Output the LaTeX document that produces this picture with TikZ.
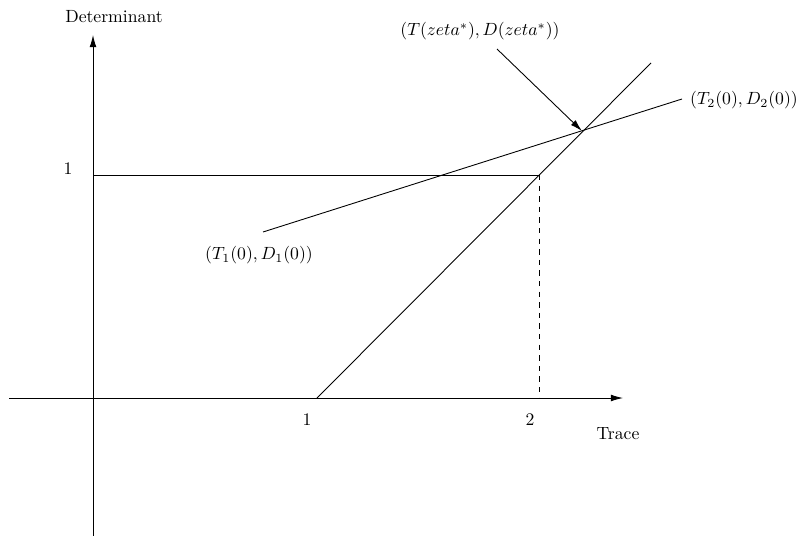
\documentclass[tikz,border=0pt]{standalone}
\usetikzlibrary{arrows.meta}
\begin{document}
\begin{tikzpicture}[x=0.566pt,y=-0.566pt,line width=0.5pt,
  axisarrow/.style={-{Latex[length=6.8pt,width=3.8pt]}},
  lbl/.style={inner sep=0pt}]
\useasboundingbox (0,0) rectangle (801,536);
% coordinates
\coordinate (ybot) at (93,536);
\coordinate (ytop) at (93,35);
\coordinate (xl) at (9,398);
\coordinate (xr) at (623,398);
\coordinate (d1) at (93,175);
\coordinate (p2) at (539,175);
\coordinate (q2) at (539,398);
\coordinate (a0) at (317,398);
\coordinate (a1) at (651,63);
\coordinate (b0) at (263,232);
\coordinate (b1) at (682,99);
\coordinate (star) at (582,131);
\coordinate (arrs) at (497,49);
% axes
\draw[axisarrow] (ybot) -- (ytop);
\draw[axisarrow] (xl) -- (xr);
% lines
\draw (d1) -- (p2);
\draw[dashed] (p2) -- (q2);
\draw (a0) -- (a1);
\draw (b0) -- (b1);
\draw[axisarrow] (arrs) -- (star);
% labels
\node[lbl] (det) at (114,17) {Determinant};
\node[lbl] (one) at (68,169) {1};
\node[lbl] (tone) at (307,420) {1};
\node[lbl] (ttwo) at (530,420) {2};
\node[lbl] (trace) at (618,434) {Trace};
\node[lbl] (zeta) at (480,31) {$(T(zeta^*),D(zeta^*))$};
\node[lbl] (t2) at (744,100) {$(T_2(0),D_2(0))$};
\node[lbl] (t1) at (259,255) {$(T_1(0),D_1(0))$};
\end{tikzpicture}
\end{document}
